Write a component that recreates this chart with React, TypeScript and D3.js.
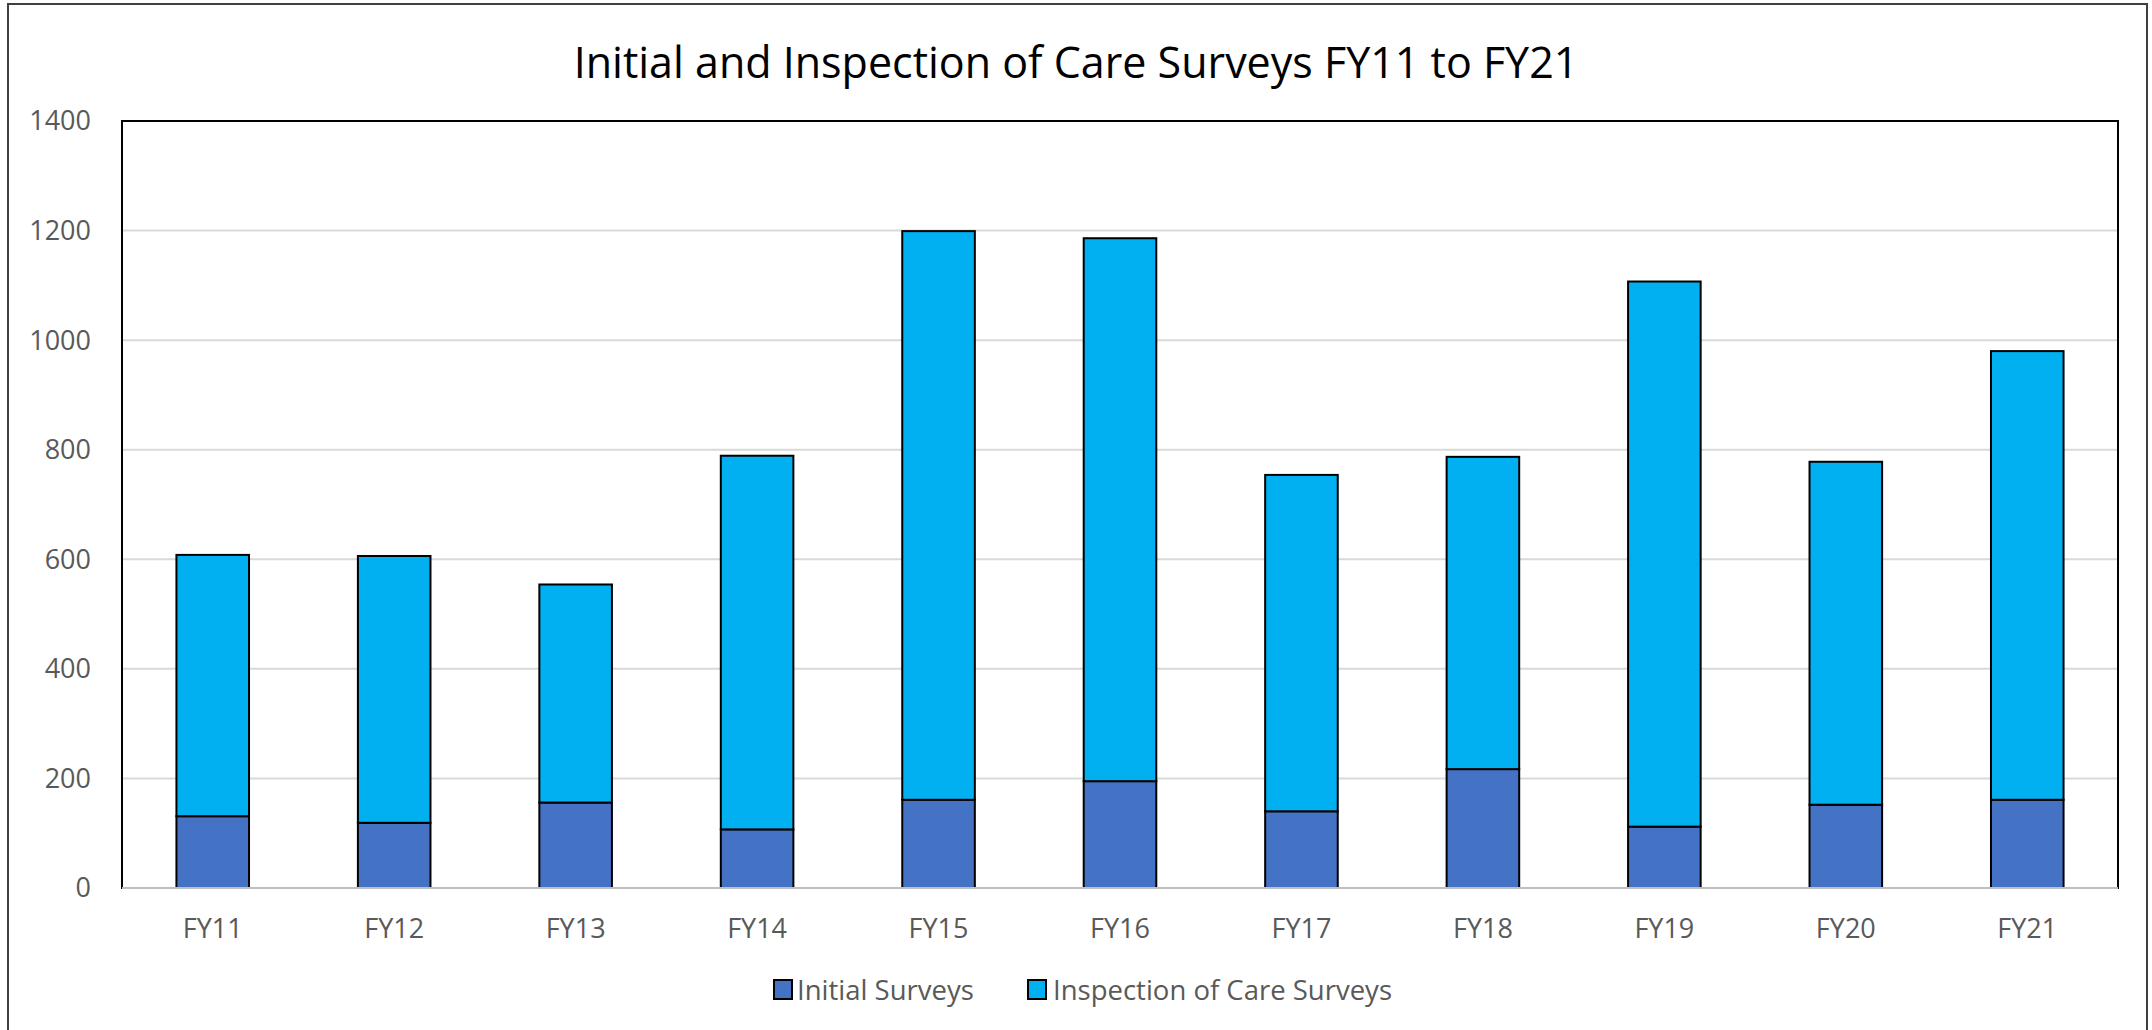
import * as React from 'react';
import {scaleBand, scaleLinear, stack} from 'd3';

const years = ['FY11', 'FY12', 'FY13', 'FY14', 'FY15', 'FY16', 'FY17', 'FY18', 'FY19', 'FY20', 'FY21'];
const initialSurveys = [131, 119, 156, 107, 161, 195, 140, 217, 112, 152, 161];
const inspectionSurveys = [477, 487, 398, 682, 1038, 991, 614, 570, 995, 626, 819];
const yTicks = [0, 200, 400, 600, 800, 1000, 1200, 1400];
const seriesNames = ['Initial Surveys', 'Inspection of Care Surveys'];
const seriesColors = ['#4472C4', '#00B0F0'];

const W = 2152;
const H = 1030;
const plot = {left: 122, right: 2118, top: 121, bottom: 888};
const font = '"Open Sans", sans-serif';

const rows = years.map((y, i) => ({year: y, a: initialSurveys[i], b: inspectionSurveys[i]}));
const layers = stack<any>().keys(['a', 'b'])(rows);

const xScale = scaleBand<string>()
    .domain(years)
    .range([plot.left, plot.right])
    .paddingInner(0.6)
    .paddingOuter(0.3);

const yScale = scaleLinear()
    .domain([0, 1400])
    .range([plot.bottom, plot.top]);

const legendItems = [
    {box: 774, text: 797},
    {box: 1028, text: 1053},
];

export default function App() {
    return (
        <svg width={W} height={H} style={{position: 'absolute', left: 0, top: 0, background: '#fff'}}>
            {/* chart frame, bottom edge falls off the page */}
            <rect x={8} y={4} width={2139} height={1060} fill="#fff" stroke="#404040" strokeWidth={2} />

            <text x={1076} y={78} textAnchor="middle" fontFamily={font} fontSize={43} fill="#000">
                Initial and Inspection of Care Surveys FY11 to FY21
            </text>

            {yTicks.map(t => (
                <g key={t}>
                    {t > 0 && t < 1400 &&
                        <line x1={plot.left} x2={plot.right} y1={yScale(t)} y2={yScale(t)} stroke="#D9D9D9" strokeWidth={2} />}
                    <text x={91} y={yScale(t)} dy="0.35em" textAnchor="end" fontFamily={font} fontSize={27} fill="#595959">
                        {t}
                    </text>
                </g>
            ))}

            <rect x={plot.left} y={plot.top} width={plot.right - plot.left} height={plot.bottom - plot.top}
                  fill="none" stroke="#000" strokeWidth={2} />

            {layers.map((layer, li) => (
                <g key={li}>
                    {layer.map((d, i) => (
                        <rect key={i}
                              x={xScale(years[i])}
                              y={yScale(d[1])}
                              width={xScale.bandwidth()}
                              height={yScale(d[0]) - yScale(d[1])}
                              fill={seriesColors[li]}
                              stroke="#000"
                              strokeWidth={2} />
                    ))}
                </g>
            ))}

            <line x1={plot.left} x2={plot.right} y1={plot.bottom} y2={plot.bottom} stroke="#BFBFBF" strokeWidth={2} />

            {years.map(y => (
                <text key={y} x={xScale(y)! + xScale.bandwidth() / 2} y={938} textAnchor="middle"
                      fontFamily={font} fontSize={27} fill="#595959">
                    {y}
                </text>
            ))}

            {seriesNames.map((name, i) => (
                <g key={name}>
                    <rect x={legendItems[i].box} y={980} width={18} height={19} fill={seriesColors[i]} stroke="#000" strokeWidth={2} />
                    <text x={legendItems[i].text} y={990} dy="0.35em" fontFamily={font} fontSize={27.5} fill="#595959">
                        {name}
                    </text>
                </g>
            ))}
        </svg>
    );
}
